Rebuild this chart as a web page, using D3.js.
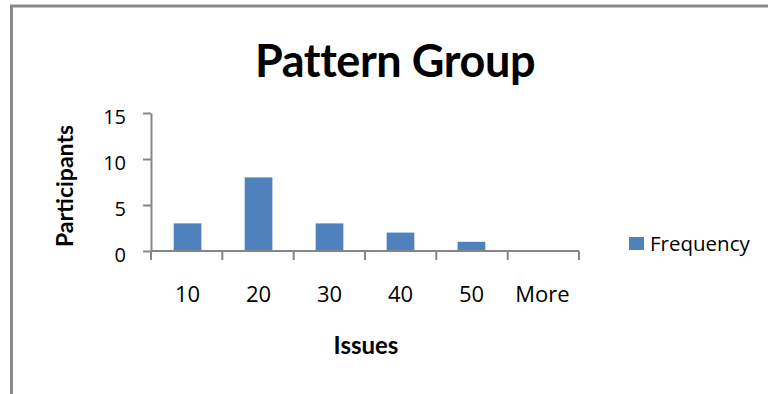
<!DOCTYPE html>
<html>
<head>
<meta charset="utf-8">
<script src="https://cdn.jsdelivr.net/npm/d3@7"></script>
<style>
  html, body { margin: 0; padding: 0; background: #fff; }
  svg { display: block; }
  text { font-family: "Open Sans", Lato, sans-serif; fill: #000; }
  .bold { font-family: Lato, "Open Sans", sans-serif; font-weight: bold; }
</style>
</head>
<body>
<svg id="chart" width="768" height="394"></svg>
<script>
// Histogram of issues per participant
const categories = ["10", "20", "30", "40", "50", "More"];
const frequency = [3, 8, 3, 2, 1, 0];
const yTicks = [0, 5, 10, 15];
const seriesName = "Frequency";
const titleText = "Pattern Group";
const xTitle = "Issues";
const yTitle = "Participants";

const svg = d3.select("#chart");
const W = 768, H = 394;
const plot = { left: 151, right: 579, top: 113, bottom: 251 };
const barColor = "#4F81BD";
const axisColor = "#868686";

// Outer frame (open on the right and bottom edges)
svg.append("rect")
  .attr("x", 11.5).attr("y", 6)
  .attr("width", W + 20).attr("height", H + 20)
  .attr("fill", "none")
  .attr("stroke", "#8a8a8a")
  .attr("stroke-width", 3);

const x = d3.scaleBand()
  .domain(categories)
  .range([plot.left, plot.right])
  .paddingInner(0.61)
  .paddingOuter(0.32);

const xEdges = d3.scaleLinear()
  .domain([0, categories.length])
  .range([plot.left, plot.right]);

const y = d3.scaleLinear()
  .domain([0, 15])
  .range([plot.bottom, plot.top]);

// Bars
svg.append("g")
  .selectAll("rect")
  .data(categories.map((c, i) => ({ c, v: frequency[i] })))
  .join("rect")
  .attr("x", d => x(d.c))
  .attr("y", d => y(d.v))
  .attr("width", x.bandwidth())
  .attr("height", d => y(0) - y(d.v))
  .attr("fill", barColor);

// Y axis
const yAxis = svg.append("g")
  .attr("transform", `translate(${plot.left},0)`)
  .call(d3.axisLeft(y).tickValues(yTicks).tickSize(8).tickPadding(17).tickSizeOuter(0));
yAxis.select(".domain").attr("stroke", axisColor).attr("stroke-width", 2);
yAxis.selectAll(".tick line").attr("stroke", axisColor).attr("stroke-width", 2);
yAxis.selectAll(".tick text")
  .attr("font-size", 20)
  .attr("font-family", "'Open Sans', sans-serif")
  .attr("fill", "#000")
  .attr("dy", "0.5em");

// X axis: baseline with boundary ticks between categories
const xAxisG = svg.append("g").attr("transform", `translate(0,${plot.bottom})`);
xAxisG.append("line")
  .attr("x1", plot.left).attr("x2", plot.right)
  .attr("y1", 0).attr("y2", 0)
  .attr("stroke", axisColor).attr("stroke-width", 2);
xAxisG.selectAll("line.edge")
  .data(d3.range(categories.length + 1))
  .join("line")
  .attr("class", "edge")
  .attr("x1", d => xEdges(d)).attr("x2", d => xEdges(d))
  .attr("y1", 0).attr("y2", 9)
  .attr("stroke", axisColor).attr("stroke-width", 2);
xAxisG.selectAll("text")
  .data(categories)
  .join("text")
  .attr("x", d => x(d) + x.bandwidth() / 2)
  .attr("y", 51)
  .attr("text-anchor", "middle")
  .attr("font-size", 22)
  .text(d => d);

// Title
svg.append("text")
  .attr("class", "bold")
  .attr("x", 395).attr("y", 77)
  .attr("text-anchor", "middle")
  .attr("font-size", 45)
  .attr("letter-spacing", -0.4)
  .text(titleText);

// Axis titles
svg.append("text")
  .attr("class", "bold")
  .attr("x", 366).attr("y", 354)
  .attr("text-anchor", "middle")
  .attr("font-size", 24)
  .text(xTitle);

svg.append("text")
  .attr("class", "bold")
  .attr("transform", "translate(73,186) rotate(-90)")
  .attr("text-anchor", "middle")
  .attr("font-size", 23)
  .text(yTitle);

// Legend
const legend = svg.append("g").attr("transform", "translate(629,237)");
legend.append("rect")
  .attr("width", 15).attr("height", 13)
  .attr("fill", barColor);
legend.append("text")
  .attr("x", 21).attr("y", 14)
  .attr("font-size", 20.5)
  .text(seriesName);
</script>
</body>
</html>
